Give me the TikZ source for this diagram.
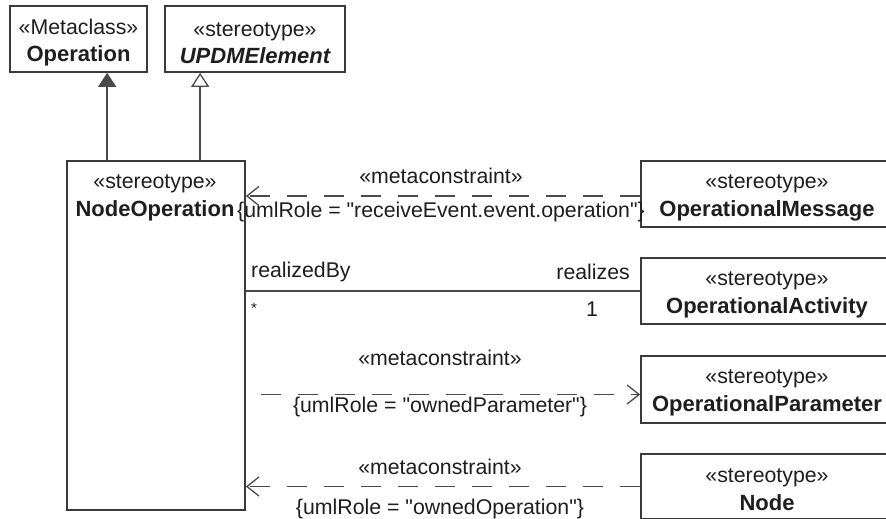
\documentclass[tikz,border=0pt]{standalone}
\usepackage{fontspec}
\setmainfont{Liberation Sans}
\usetikzlibrary{arrows.meta,calc}
\definecolor{ln}{HTML}{3A3A3A}
\definecolor{cn}{HTML}{4A4A4A}
\definecolor{tx}{HTML}{1E1E1E}
\newcommand{\qd}{\XeTeXglyph\XeTeXcharglyph"22\relax}
\newcommand{\hs}{\rule{0pt}{21pt}}
\begin{document}
\begin{tikzpicture}[x=1pt,y=-1pt,
  every node/.style={text=tx, inner sep=0pt},
  reg/.style={font=\fontsize{21.3}{28}\selectfont},
  cls/.style={draw=ln, line width=1.7pt, fill=white, minimum height=65pt,
    align=center, font=\fontsize{21.3}{28}\selectfont},
  conn/.style={draw=cn, line width=1.4pt},
  dep/.style={conn, dash pattern=on 20pt off 17pt},
  openarr/.style={-{Straight Barb[length=12pt,width=19pt,line width=1.3pt]}},
  genfill/.style={-{Triangle[length=14pt,width=18pt,fill=cn]}},
  genopen/.style={-{Triangle[open,length=14pt,width=18pt,fill=white,line width=1.3pt]}}
]
\useasboundingbox (0,0) rectangle (886,519);
\fill[white] (0,0) rectangle (886,519);

% top boxes
\node[cls, minimum width=137pt, minimum height=66pt] (op) at (78.5,39)
  {\rule{0pt}{23pt}«Metaclass»\\[-1pt]{\bfseries\fontsize{22}{28}\selectfont Operation}};
\node[cls, minimum width=180pt, minimum height=66pt] (upd) at (255,39)
  {\rule{0pt}{23pt}«stereotype»\\[-1pt]{\bfseries\itshape\fontsize{22}{28}\selectfont UPDMElement}};

% NodeOperation box
\node[draw=ln, line width=1.7pt, minimum width=178pt, minimum height=349pt] (nop) at (156,335.5) {};
\node[reg, align=center] (noptxt) at (155,198)
  {«stereotype»\\{\bfseries\fontsize{22}{28}\selectfont NodeOperation}};

% right boxes
\node[cls, minimum width=252pt, minimum height=66pt] (msg) at (767,194)
  {\hs«stereotype»\\{\bfseries\fontsize{22}{28}\selectfont OperationalMessage}};
\node[cls, minimum width=252pt, minimum height=66pt] (act) at (767,291)
  {\hs«stereotype»\\{\bfseries\fontsize{22}{28}\selectfont OperationalActivity}};
\node[cls, minimum width=252pt, minimum height=67pt] (par) at (767,389.5)
  {\hs«stereotype»\\{\bfseries\fontsize{22}{28}\selectfont OperationalParameter}};
\node[cls, minimum width=252pt, minimum height=65pt] (nd) at (767,486.5)
  {\hs«stereotype»\\{\bfseries\fontsize{22}{28}\selectfont Node}};

% generalizations
\draw[conn, genfill] ([xshift=41pt]nop.north west) -- ([xshift=41pt]nop.north west |- op.south);
\draw[conn, genopen] ([xshift=134pt]nop.north west) -- ([xshift=134pt]nop.north west |- upd.south);

% dependency 1
\draw[dep, openarr] ([yshift=-2pt]msg.west) -- ([yshift=-2pt]nop.east |- msg.west);
\node[reg] (m1) at (441,176) {«metaconstraint»};
\node[reg] (c1) at (441,212) {\{umlRole = \qd receiveEvent.event.operation\qd\}};

% association
\draw[conn] (nop.east |- act.west) -- (act.west);
\node[reg, anchor=west] (rb) at (251,272) {realizedBy};
\node[reg, anchor=east] (rz) at (630,272) {realizes};
\node[font=\fontsize{15}{18}\selectfont, anchor=base] (star) at (254,313) {*};
\node[reg] (one) at (592,309) {1};

% dependency 2
\draw[dep, openarr, dash phase=22pt] ([yshift=-5pt]nop.east |- par.west) -- ([yshift=-5pt]par.west);
\node[reg] (m3) at (440,358) {«metaconstraint»};
\node[reg] (c3) at (440,407) {\{umlRole = \qd ownedParameter\qd\}};

% dependency 3
\draw[dep, openarr] (nd.west) -- (nop.east |- nd.west);
\node[reg] (m4) at (440,467) {«metaconstraint»};
\node[reg] (c4) at (440,509) {\{umlRole = \qd ownedOperation\qd\}};
\end{tikzpicture}
\end{document}
